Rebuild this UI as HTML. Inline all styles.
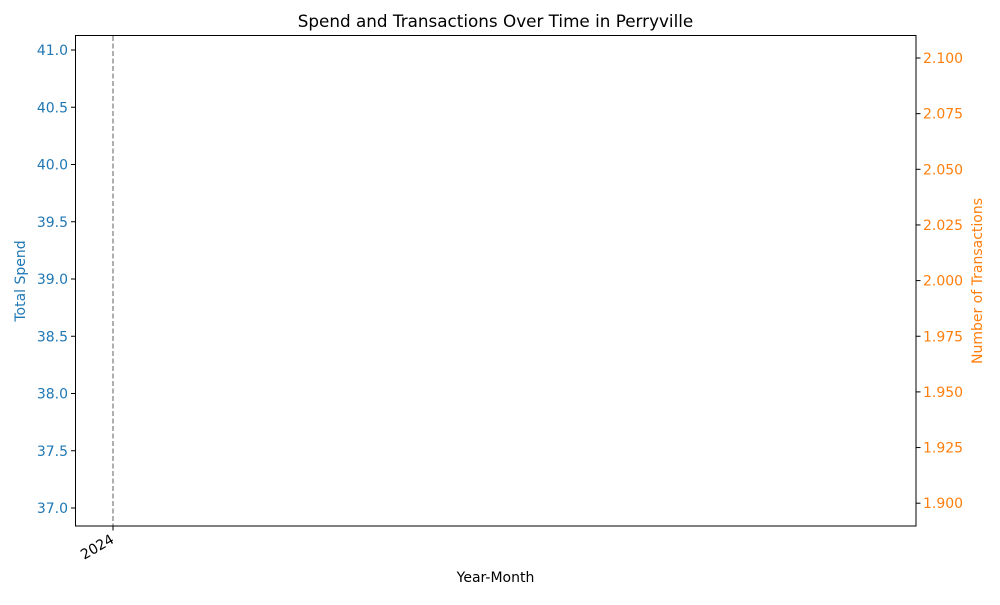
<!DOCTYPE html>
<html><head><meta charset="utf-8"><style>
body{margin:0;background:#fff}
svg text{font-family:"DejaVu Sans","Liberation Sans",sans-serif;font-size:14px}
</style></head><body>
<svg id="chart" width="1000" height="600" viewBox="0 0 1000 600">
<rect width="1000" height="600" fill="#fff"/>
<text x="495.5" y="27" text-anchor="middle" style="font-size:16.8px">Spend and Transactions Over Time in Perryville</text>
<g id="marks"></g>
<g id="axes"></g>
<rect x="75.5" y="35.5" width="840.5" height="490.5" fill="none" stroke="#000" stroke-width="1"/>
<text x="495.5" y="582" text-anchor="middle">Year-Month</text>
<text transform="translate(25,281) rotate(-90)" text-anchor="middle" fill="#1f77b4">Total Spend</text>
<text transform="translate(982,281) rotate(-90)" text-anchor="middle" fill="#ff7f0e">Number of Transactions</text>
</svg>
<script>
const months = ["2024"];
const spend = [39];
const transactions = [2];
const leftTicks = [37.0, 37.5, 38.0, 38.5, 39.0, 39.5, 40.0, 40.5, 41.0];
const rightTicks = [1.900, 1.925, 1.950, 1.975, 2.000, 2.025, 2.050, 2.075, 2.100];
const NS = "http://www.w3.org/2000/svg";
const yL = v => 50 + (41 - v) * 114.5;
const yR = v => 58 + (2.1 - v) * 2226;
const xS = i => 113 + i * 60;
const axes = document.getElementById('axes');
const marks = document.getElementById('marks');
function mk(tag, attrs, parent, txt) {
  const e = document.createElementNS(NS, tag);
  for (const k in attrs) e.setAttribute(k, attrs[k]);
  if (txt !== undefined) e.textContent = txt;
  parent.appendChild(e);
  return e;
}
leftTicks.forEach(v => {
  const y = yL(v);
  const t = mk('line', {x1: 71, x2: 75.5, y1: y, y2: y, stroke: '#000'}, axes);
  
  
  const l = mk('text', {x: 68, y: y + 5, 'text-anchor': 'end', fill: '#1f77b4'}, axes, v.toFixed(1));
  
  
});
rightTicks.forEach(v => {
  const y = yR(v);
  const t = mk('line', {x1: 916, x2: 920.5, y1: y, y2: y, stroke: '#000'}, axes);
  
  
  const l = mk('text', {x: 923, y: y + 5, fill: '#ff7f0e'}, axes, v.toFixed(3));
  
  
});
months.forEach((m, i) => {
  const x = xS(i);
  const vl = mk('line', {x1: x, x2: x, y1: 36, y2: 526, stroke: '#7a7a7a', 'stroke-width': 1.2, 'stroke-dasharray': '5,2.5'}, marks);
  
  
  const t = mk('line', {x1: x, x2: x, y1: 526, y2: 530.5, stroke: '#000'}, axes);
  
  
  const l = mk('text', {transform: `translate(${x + 2},${542}) rotate(-30)`, 'text-anchor': 'end'}, axes, m);
  
  
  const p1 = mk('circle', {cx: x, cy: yL(spend[i]), r: 0, fill: '#1f77b4'}, marks);
  
  
  const p2 = mk('circle', {cx: x, cy: yR(transactions[i]), r: 0, fill: '#ff7f0e'}, marks);
  
  
});
</script>
</body></html>
